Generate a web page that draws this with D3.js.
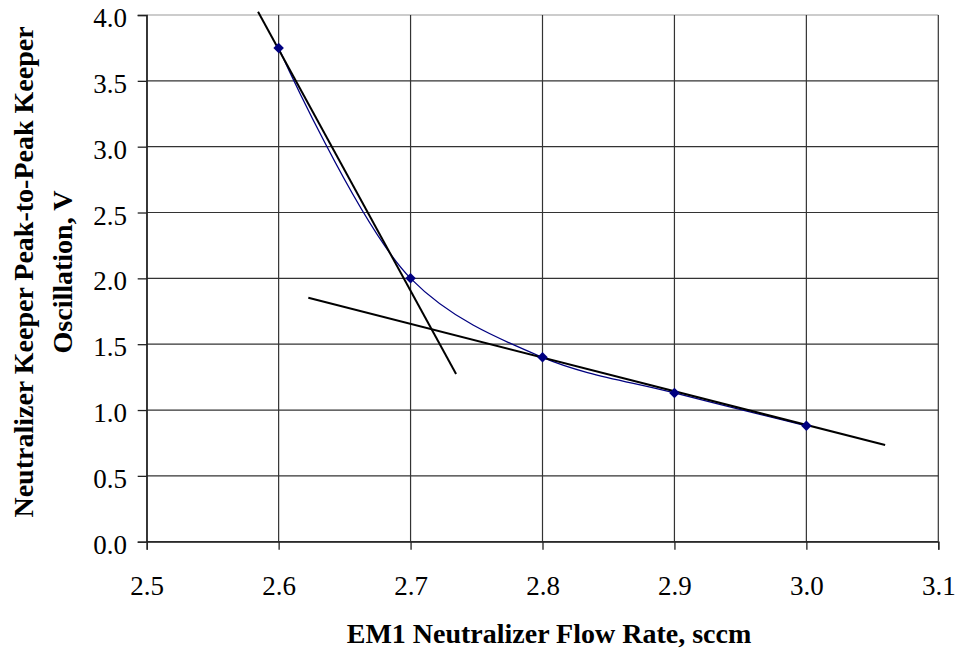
<!DOCTYPE html>
<html><head><meta charset="utf-8">
<script src="https://cdn.jsdelivr.net/npm/d3@7"></script>
<style>body{margin:0;background:#fff}svg{display:block}</style>
</head><body>
<script>
const flowRates = [2.6, 2.7, 2.8, 2.9, 3.0];
const oscillation = [3.75, 2.0, 1.4, 1.13, 0.88];
const trendSteep = [[2.5844, 4.025], [2.7345, 1.273]];
const trendShallow = [[2.6225, 1.853], [3.0597, 0.734]];
const xTicks = [2.5, 2.6, 2.7, 2.8, 2.9, 3.0, 3.1];
const yTicks = [0.0, 0.5, 1.0, 1.5, 2.0, 2.5, 3.0, 3.5, 4.0];
const xTitle = "EM1 Neutralizer Flow Rate, sccm";
const yTitle = ["Neutralizer Keeper Peak-to-Peak Keeper", "Oscillation, V"];

const W = 958, H = 648;
const svg = d3.select("body").append("svg").attr("width", W).attr("height", H);
const x = d3.scaleLinear().domain([2.5, 3.1]).range([146.7, 938.3]);
const y = d3.scaleLinear().domain([0, 4]).range([541.7, 15]);
const serif = "'Liberation Serif','Times New Roman',serif";

// gridlines
svg.append("g").selectAll("line").data(yTicks).join("line")
  .attr("x1", x(2.5)).attr("x2", x(3.1))
  .attr("y1", d => y(d)).attr("y2", d => y(d))
  .attr("stroke", d => d === 4 ? "#999" : "#333").attr("stroke-width", 1.2);
svg.append("g").selectAll("line").data(xTicks).join("line")
  .attr("y1", y(0)).attr("y2", y(4))
  .attr("x1", d => x(d)).attr("x2", d => x(d))
  .attr("stroke", "#333").attr("stroke-width", 1.2);

// axes
const xAxis = svg.append("g").attr("transform", `translate(0,${y(0)})`)
  .call(d3.axisBottom(x).tickValues(xTicks).tickFormat(d3.format(".1f")).tickSize(8));
const yAxis = svg.append("g").attr("transform", `translate(${x(2.5)},0)`)
  .call(d3.axisLeft(y).tickValues(yTicks).tickFormat(d3.format(".1f")).tickSize(9));
[xAxis, yAxis].forEach(a => {
  a.selectAll("path,line").attr("stroke", "#222").attr("stroke-width", 1.3);
  a.selectAll("text").attr("font-family", serif).attr("font-size", 27).attr("fill", "#000");
});
xAxis.selectAll("text").attr("y", 53.3).attr("dy", 0);
yAxis.selectAll("text").attr("x", -19.7).attr("dy", 11.5);

// smoothed data line
const pts = flowRates.map((f, i) => [f, oscillation[i]]);
svg.append("path").datum(pts)
  .attr("d", d3.line().x(d => x(d[0])).y(d => y(d[1])).curve(d3.curveCatmullRom.alpha(0.5)))
  .attr("fill", "none").attr("stroke", "#000080").attr("stroke-width", 1.3);

// trend lines
[trendSteep, trendShallow].forEach(t => {
  svg.append("path").datum(t)
    .attr("d", d3.line().x(d => x(d[0])).y(d => y(d[1])))
    .attr("stroke", "#000").attr("stroke-width", 2).attr("fill", "none");
});

// markers
svg.append("g").selectAll("path").data(pts).join("path")
  .attr("transform", d => `translate(${x(d[0])},${y(d[1])})`)
  .attr("d", d3.symbol(d3.symbolDiamond2, 70))
  .attr("fill", "#000080");

// titles
svg.append("text").attr("x", 549).attr("y", 643).attr("text-anchor", "middle")
  .attr("font-family", serif).attr("font-weight", "bold").attr("font-size", 28).text(xTitle);
const yt = svg.append("text").attr("transform", "translate(0,272) rotate(-90)")
  .attr("text-anchor", "middle").attr("font-family", serif).attr("font-weight", "bold").attr("font-size", 28);
yt.append("tspan").attr("x", 0).attr("y", 33).text(yTitle[0]);
yt.append("tspan").attr("x", 0).attr("y", 72).text(yTitle[1]);
</script>
</body></html>
